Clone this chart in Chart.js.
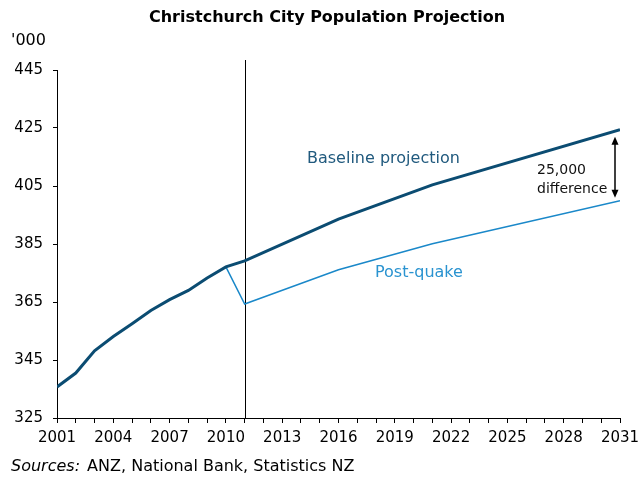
<!DOCTYPE html>
<html>
<head>
<meta charset="utf-8">
<title>Christchurch City Population Projection</title>
<script src="https://cdn.jsdelivr.net/npm/chart.js@4/dist/chart.umd.min.js"></script>
<style>
  html, body { margin: 0; padding: 0; background: #fff; }
  #wrap { width: 638px; height: 477px; position: relative; }
</style>
</head>
<body>
<div id="wrap"><canvas id="chartPopulasi"></canvas></div>
<script>
// ======================================
// DATA ('000 people)
// ======================================

const baselineYears = [2001, 2002, 2003, 2004, 2005, 2006, 2007, 2008, 2009, 2010, 2011, 2016, 2021, 2031];
const baselineValues = [335.7, 340.5, 348.2, 353.1, 357.5, 362.1, 365.8, 369.0, 373.3, 377.1, 379.2, 393.6, 405.4, 424.4];

const postQuakeYears = [2010, 2011, 2016, 2021, 2031];
const postQuakeValues = [377.1, 364.3, 376.1, 385.1, 399.9];

const yTicks = [325, 345, 365, 385, 405, 425, 445];
const xLabelYears = [2001, 2004, 2007, 2010, 2013, 2016, 2019, 2022, 2025, 2028, 2031];
const quakeYear = 2011;

const FONT = "'DejaVu Sans', Verdana, sans-serif";
const WARNA_BASELINE = "#0b4c72";
const WARNA_POSTQUAKE = "#1a88c9";

function toPoints(years, values) {
  return years.map((yr, i) => ({ x: yr, y: values[i] }));
}

// ======================================
// OVERLAY: titles, quake line, labels, arrow
// ======================================

const overlayPlugin = {
  id: "overlay",
  beforeDatasetsDraw(chart) {
    const { ctx, chartArea, scales: { x } } = chart;
    const px = Math.round(x.getPixelForValue(quakeYear)) + 0.5;
    ctx.save();
    ctx.strokeStyle = "#000";
    ctx.lineWidth = 1;
    ctx.beginPath();
    ctx.moveTo(px, chartArea.top - 10);
    ctx.lineTo(px, chartArea.bottom);
    ctx.stroke();
    ctx.restore();
  },
  afterDraw(chart) {
    const { ctx, scales: { x, y } } = chart;
    ctx.save();

    // title
    ctx.fillStyle = "#000";
    ctx.font = "bold 16px " + FONT;
    ctx.textAlign = "center";
    ctx.textBaseline = "middle";
    ctx.fillText("Christchurch City Population Projection", 327, 18);

    // unit
    ctx.font = "16px " + FONT;
    ctx.textAlign = "left";
    ctx.fillText("'000", 11, 41);

    // sources
    ctx.font = "italic 16px " + FONT;
    ctx.fillText("Sources:", 11, 467);
    const w = ctx.measureText("Sources: ").width;
    ctx.font = "16px " + FONT;
    ctx.fillText("ANZ, National Bank, Statistics NZ", 11 + w + 2, 467);

    // series labels
    ctx.font = "16px " + FONT;
    ctx.fillStyle = "#215a7e";
    ctx.fillText("Baseline projection", 307, 159);
    ctx.fillStyle = "#2a93d0";
    ctx.fillText("Post-quake", 375, 273);

    // difference note
    ctx.fillStyle = "#111";
    ctx.font = "14px " + FONT;
    ctx.fillText("25,000", 537, 170);
    ctx.fillText("difference", 537, 189);

    // double arrow
    const ax = x.getPixelForValue(2031) - 5;
    const top = y.getPixelForValue(baselineValues[baselineValues.length - 1]) + 7;
    const bot = y.getPixelForValue(postQuakeValues[postQuakeValues.length - 1]) - 3;
    ctx.strokeStyle = "#000";
    ctx.fillStyle = "#000";
    ctx.lineWidth = 1.5;
    ctx.beginPath();
    ctx.moveTo(ax, top + 5);
    ctx.lineTo(ax, bot - 5);
    ctx.stroke();
    ctx.beginPath();
    ctx.moveTo(ax, top);
    ctx.lineTo(ax - 3.5, top + 8);
    ctx.lineTo(ax + 3.5, top + 8);
    ctx.closePath();
    ctx.fill();
    ctx.beginPath();
    ctx.moveTo(ax, bot);
    ctx.lineTo(ax - 3.5, bot - 8);
    ctx.lineTo(ax + 3.5, bot - 8);
    ctx.closePath();
    ctx.fill();

    ctx.restore();
  },
};

// ======================================
// CHART
// ======================================

Chart.defaults.font.family = FONT;
Chart.defaults.color = "#000";

new Chart(document.getElementById("chartPopulasi"), {
  type: "line",
  data: {
    datasets: [
      {
        label: "Baseline projection",
        data: toPoints(baselineYears, baselineValues),
        borderColor: WARNA_BASELINE,
        borderWidth: 3,
        pointRadius: 0,
        tension: 0,
        fill: false,
      },
      {
        label: "Post-quake",
        data: toPoints(postQuakeYears, postQuakeValues),
        borderColor: WARNA_POSTQUAKE,
        borderWidth: 1.5,
        pointRadius: 0,
        tension: 0,
        fill: false,
      },
    ],
  },
  options: {
    responsive: true,
    maintainAspectRatio: false,
    animation: false,
    layout: { padding: { top: 70, right: 18, left: 0, bottom: 0 } },
    plugins: {
      legend: { display: false },
      tooltip: { enabled: false },
      title: { display: false },
    },
    scales: {
      x: {
        type: "linear",
        min: 2001,
        max: 2031,
        afterFit: (s) => {
          s.height = 59;
          s.paddingLeft = 0;
          s.paddingRight = 0;
        },
        border: { display: true, color: "#000", width: 1 },
        grid: { drawOnChartArea: false, drawTicks: true, tickLength: 5, color: "#000" },
        ticks: {
          stepSize: 1,
          autoSkip: false,
          maxRotation: 0,
          padding: 6,
          font: { size: 15 },
          callback: (v) => (xLabelYears.includes(v) ? String(v) : ""),
        },
      },
      y: {
        min: yTicks[0],
        max: yTicks[yTicks.length - 1],
        afterFit: (s) => {
          s.width = 57;
        },
        border: { display: true, color: "#000", width: 1 },
        grid: { drawOnChartArea: false, drawTicks: true, tickLength: 4, color: "#000" },
        ticks: {
          stepSize: yTicks[1] - yTicks[0],
          padding: 10,
          font: { size: 15 },
          callback: (v) => (yTicks.includes(v) ? String(v) : ""),
        },
      },
    },
  },
  plugins: [overlayPlugin],
});
</script>
</body>
</html>
